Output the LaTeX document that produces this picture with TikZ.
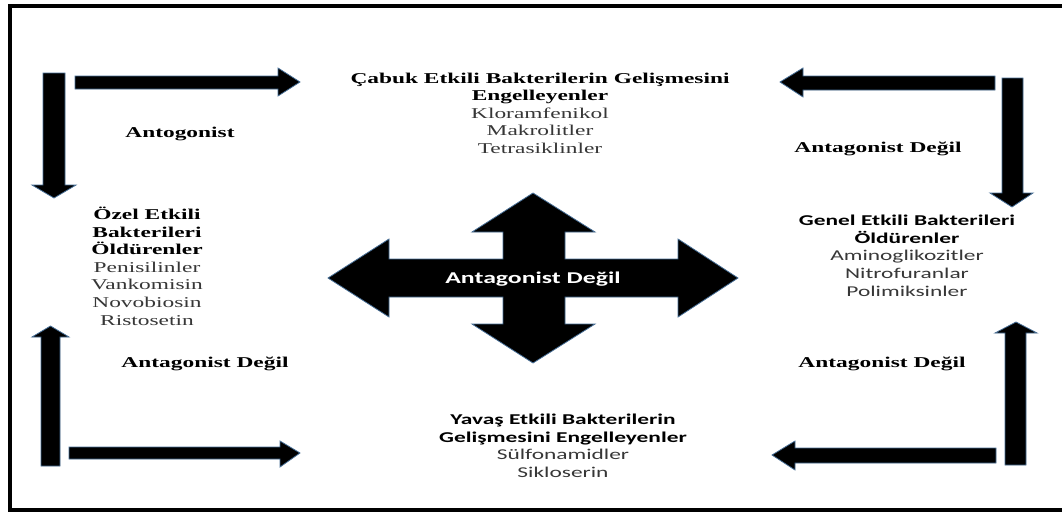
\documentclass[tikz,border=0pt]{standalone}
\usepackage{fontspec}
\newfontfamily\tnrfont{Liberation Serif}[FakeStretch=1.56]
\newfontfamily\calfont{Carlito}[FakeStretch=1.56]
\definecolor{arrowedge}{RGB}{70,110,150}
\definecolor{lighttext}{RGB}{55,55,55}
\begin{document}
\begin{tikzpicture}[x=1pt,y=-1pt,
  blockarrow/.style={fill=black, draw=arrowedge, line width=0.8pt, line join=miter},
  serifbox/.style={inner sep=0pt, align=center, anchor=base, font=\tnrfont\fontsize{15}{17.6}\selectfont},
  sansbox/.style={inner sep=0pt, align=center, anchor=base, font=\calfont\fontsize{15}{17.6}\selectfont},
  lbl/.style={inner sep=0pt, anchor=base, font=\tnrfont\bfseries\fontsize{15}{17.6}\selectfont}]
\useasboundingbox (0,0) rectangle (1062,511);
\fill[white] (0,0) rectangle (1062,511);
\begin{scope}
\clip (0,0) rectangle (1062,511);
\draw[line width=4pt] (10,6.5) rectangle (1075,509.5);
\end{scope}

% corner arrows
% top-left: down
\draw[blockarrow] (43,73) -- (65,73) -- (65,185) -- (76,185) -- (54,198) -- (32,185) -- (43,185) -- cycle;
% top-left: right
\draw[blockarrow] (75,76) -- (278,76) -- (278,68) -- (300,82) -- (278,96) -- (278,89) -- (75,89) -- cycle;
% top-right: left
\draw[blockarrow] (995,76) -- (803,76) -- (803,68) -- (780,82) -- (803,97) -- (803,90) -- (995,90) -- cycle;
% top-right: down
\draw[blockarrow] (1002,78) -- (1023,78) -- (1023,193) -- (1033,193) -- (1012,207) -- (990,193) -- (1002,193) -- cycle;
% bottom-left: up
\draw[blockarrow] (41,466) -- (60,466) -- (60,337) -- (69,337) -- (50.5,326) -- (32,337) -- (41,337) -- cycle;
% bottom-left: right
\draw[blockarrow] (69,447) -- (280,447) -- (280,441) -- (300,453) -- (280,467) -- (280,459) -- (69,459) -- cycle;
% bottom-right: left
\draw[blockarrow] (996,448) -- (795,448) -- (795,441) -- (772,455) -- (795,470) -- (795,463) -- (996,463) -- cycle;
% bottom-right: up
\draw[blockarrow] (1005,465) -- (1026,465) -- (1026,333) -- (1037,333) -- (1016,322) -- (995,333) -- (1005,333) -- cycle;

% central cross
\draw[blockarrow] (533,193) -- (595,232) -- (565,232) -- (565,259) -- (678,259) -- (678,239) -- (738,278)
  -- (678,317) -- (678,297) -- (565,297) -- (565,324) -- (595,324) -- (533,363) -- (472,324)
  -- (503,324) -- (503,297) -- (389,297) -- (389,317) -- (328,278) -- (389,239) -- (389,259)
  -- (503,259) -- (503,232) -- (472,232) -- cycle;
\node[inner sep=0pt, anchor=base, text=white, font=\calfont\bfseries\fontsize{16.5}{18}\selectfont] (center) at (533,283) {Antagonist Değil};

% text blocks (anchor = baseline of last line)
\node[serifbox] (top) at (540,153.4) {\textbf{Çabuk Etkili Bakterilerin Gelişmesini}\\ \textbf{Engelleyenler}\\ \textcolor{lighttext}{Kloramfenikol}\\ \textcolor{lighttext}{Makrolitler}\\ \textcolor{lighttext}{Tetrasiklinler}};
\node[serifbox] (left) at (147,325) {\textbf{Özel Etkili}\\ \textbf{Bakterileri}\\ \textbf{Öldürenler}\\ \textcolor{lighttext}{Penisilinler}\\ \textcolor{lighttext}{Vankomisin}\\ \textcolor{lighttext}{Novobiosin}\\ \textcolor{lighttext}{Ristosetin}};
\node[sansbox] (right) at (907,296) {\textbf{Genel Etkili Bakterileri}\\ \textbf{Öldürenler}\\ \textcolor{lighttext}{Aminoglikozitler}\\ \textcolor{lighttext}{Nitrofuranlar}\\ \textcolor{lighttext}{Polimiksinler}};
\node[sansbox] (bottom) at (563,477.5) {\textbf{Yavaş Etkili Bakterilerin}\\ \textbf{Gelişmesini Engelleyenler}\\ \textcolor{lighttext}{Sülfonamidler}\\ \textcolor{lighttext}{Sikloserin}};

% labels
\node[lbl] (l1) at (180,137) {Antogonist};
\node[lbl] (l2) at (878,152) {Antagonist Değil};
\node[lbl] (l3) at (205,367) {Antagonist Değil};
\node[lbl] (l4) at (882,367) {Antagonist Değil};
\end{tikzpicture}
\end{document}
